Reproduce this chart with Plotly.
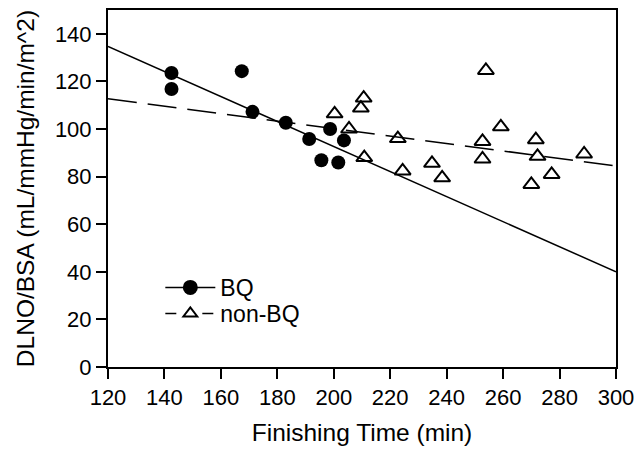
import plotly.graph_objects as go

# BQ group (filled circles)
bq_x = [142.5, 142.5, 167.4, 171.2, 183.0, 191.3, 195.6, 201.6, 198.7, 203.6]
bq_y = [123.5, 116.8, 124.3, 107.2, 102.6, 95.8, 86.9, 85.9, 100.0, 95.2]

# non-BQ group (open triangles)
nonbq_x = [200.3, 205.4, 209.6, 210.6, 210.8, 222.7, 224.4, 234.8, 238.4,
           253.9, 252.7, 252.7, 259.2, 270.0, 271.6, 272.2, 277.2, 288.7]
nonbq_y = [106.4, 100.0, 108.8, 113.0, 88.0, 96.0, 82.4, 85.6, 79.5,
           124.6, 94.8, 87.4, 100.9, 76.7, 95.5, 88.5, 80.9, 89.5]

# regression line end points
fit_x = [120, 300]
fit_bq_y = [134.7, 40.0]
fit_nonbq_y = [112.7, 84.5]

x_ticks = [120, 140, 160, 180, 200, 220, 240, 260, 280, 300]
y_ticks = [0, 20, 40, 60, 80, 100, 120, 140]

FONT = "Liberation Sans, Arial, sans-serif"

fig = go.Figure()
fig.add_trace(go.Scatter(x=fit_x, y=fit_bq_y, mode="lines",
                         line=dict(color="black", width=1.5), showlegend=False))
fig.add_trace(go.Scatter(x=fit_x, y=fit_nonbq_y, mode="lines",
                         line=dict(color="black", width=1.5, dash="29px,11px"),
                         showlegend=False))
fig.add_trace(go.Scatter(x=bq_x, y=bq_y, mode="markers",
                         marker=dict(symbol="circle", size=14, color="black"),
                         showlegend=False))
fig.add_trace(go.Scatter(x=nonbq_x, y=nonbq_y, mode="markers",
                         marker=dict(symbol="triangle-up-open", size=14, color="black",
                                     line=dict(width=2, color="black")),
                         showlegend=False))
# legend entries
fig.add_trace(go.Scatter(x=[None], y=[None], mode="lines+markers", name="BQ",
                         legend="legend",
                         line=dict(color="black", width=1.5),
                         marker=dict(symbol="circle", size=15, color="black")))
fig.add_trace(go.Scatter(x=[None], y=[None], mode="lines+markers", name="non-BQ",
                         legend="legend2",
                         line=dict(color="black", width=1.5, dash="11px,26px"),
                         marker=dict(symbol="triangle-up-open", size=12, color="black",
                                     line=dict(width=2, color="black"))))

axis_common = dict(showgrid=False, zeroline=False, showline=True, linecolor="black",
                   linewidth=2, mirror=True, ticks="outside", ticklen=10, tickwidth=1.5,
                   tickcolor="black", automargin=False,
                   tickfont=dict(family=FONT, size=22, color="black"))

legend_common = dict(xanchor="left", yanchor="top", bgcolor="rgba(0,0,0,0)",
                     font=dict(family=FONT, size=23, color="black"), itemwidth=50)

fig.update_layout(
    width=637, height=450,
    margin=dict(l=108, r=21, t=10, b=83),
    paper_bgcolor="white", plot_bgcolor="white",
    font=dict(family=FONT, color="black"),
    xaxis=dict(range=[120, 300], tickvals=x_ticks,
               title=dict(text="Finishing Time (min)", font=dict(family=FONT, size=24.5), standoff=14),
               **axis_common),
    yaxis=dict(range=[0, 150], tickvals=y_ticks,
               title=dict(text="DLNO/BSA (mL/mmHg/min/m^2)", font=dict(family=FONT, size=24.5), standoff=13),
               **axis_common),
    legend=dict(x=0.103, y=0.283, **legend_common),
    legend2=dict(x=0.103, y=0.21, **legend_common),
)

fig.write_html("out.html", post_script="document.body.style.margin='0px';",
               config={"displayModeBar": False})
